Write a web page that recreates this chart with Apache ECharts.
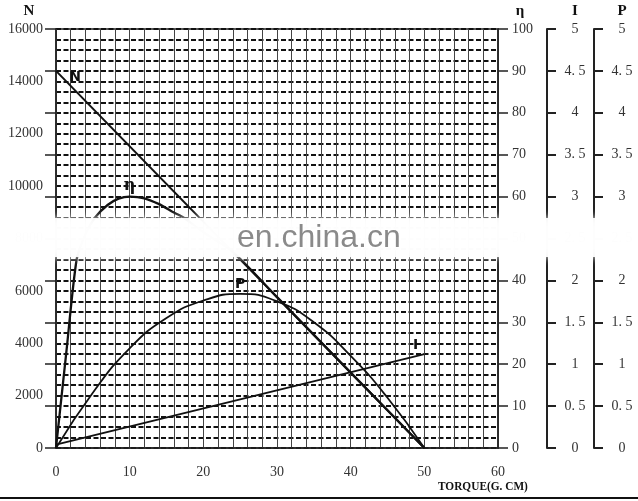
<!DOCTYPE html>
<html>
<head>
<meta charset="utf-8">
<script src="https://cdn.jsdelivr.net/npm/echarts@6/dist/echarts.min.js"></script>
<style>
html,body{margin:0;padding:0;background:#fff;}
#c{width:638px;height:501px;}
</style>
</head>
<body>
<div id="c"></div>
<script>
// ---- data ----
const torqueN = [0, 50];
const speedN = [14400, 0];

const torqueEta = [0, 1.4, 2.8, 4, 5.3, 7, 8.5, 10, 12, 14, 16, 17.3, 20, 24, 30, 40, 50];
const efficiency = [0, 22.8, 45, 51, 55, 58, 59.5, 60, 59.6, 58.2, 56.2, 55, 51.5, 46.8, 36, 18, 0];

const torqueP = [0, 5, 10, 15, 20, 25, 30, 35, 40, 45, 50];
const powerP = [0, 0.66, 1.19, 1.55, 1.76, 1.84, 1.75, 1.5, 1.1, 0.6, 0];

const torqueI = [0, 50];
const currentI = [0.04, 1.12];

const curveLabelNames = ['N', 'η', 'P', 'I'];
const curveLabelT = [2.6, 10, 25, 48.8];
const curveLabelV = [14160, 62.5, 1.95, 1.23];

const xTitle = 'TORQUE(G. CM)';
const watermark = 'en.china.cn';

// ---- build ----
const pairs = (a, b) => a.map((v, i) => [v, b[i]]);
const serif = 'Liberation Serif';
const lblColor = '#333';
const ipFmt = v => (v % 1 === 0 ? String(v) : String(v).replace('.', '. '));

function labelMark(i) {
  return {
    symbol: 'circle', symbolSize: 0,
    label: { show: true, formatter: curveLabelNames[i], color: '#111', fontFamily: i === 1 ? 'DejaVu Serif' : 'DejaVu Sans', fontWeight: 'bold', fontSize: i === 1 ? 16 : 14, position: 'inside' },
    data: [{ coord: [curveLabelT[i], curveLabelV[i]] }]
  };
}

const chart = echarts.init(document.getElementById('c'), null, { renderer: 'canvas' });
const option = {
  animation: false,
  backgroundColor: '#fff',
  grid: { left: 56, top: 29, width: 442, height: 419, show: true, borderColor: '#222', borderWidth: 1.5, backgroundColor: 'transparent' },
  xAxis: {
    type: 'value', min: 0, max: 60, interval: 10,
    axisLine: { show: true, lineStyle: { color: '#222', width: 1.5 } },
    axisTick: { show: false },
    axisLabel: { color: lblColor, fontFamily: serif, fontSize: 14, margin: 17 },
    splitLine: { show: true, lineStyle: { color: '#444', width: 1 } },
    minorTick: { show: false, splitNumber: 5 },
    minorSplitLine: { show: true, lineStyle: { color: '#444', width: 1 } }
  },
  yAxis: [
    { // N (left labels)
      type: 'value', min: 0, max: 16000, interval: 2000, position: 'left',
      name: 'N', nameLocation: 'end', nameGap: 10,
      nameTextStyle: { color: '#111', fontFamily: serif, fontWeight: 'bold', fontSize: 15, align: 'center', padding: [0, 54, 0, 0] },
      axisLine: { show: true, lineStyle: { color: '#222', width: 1.5 } },
      axisTick: { show: false },
      axisLabel: { color: lblColor, fontFamily: serif, fontSize: 14, margin: 13, formatter: v => String(v) },
      splitLine: { show: false }
    },
    { // eta (right)
      type: 'value', min: 0, max: 100, interval: 10, position: 'right',
      name: 'η', nameLocation: 'end', nameGap: 10,
      nameTextStyle: { color: '#111', fontFamily: serif, fontWeight: 'bold', fontSize: 15, align: 'center', padding: [0, 0, 0, 44] },
      axisLine: { show: true, lineStyle: { color: '#222', width: 1.5 } },
      axisTick: { show: true, length: 10, lineStyle: { color: '#222', width: 1.5 } },
      axisLabel: { color: lblColor, fontFamily: serif, fontSize: 14, margin: 14 },
      splitLine: { show: true, lineStyle: { color: '#111', width: 1.8, type: [5, 2.5] } },
      minorTick: { show: false, splitNumber: 4 },
      minorSplitLine: { show: true, lineStyle: { color: '#111', width: 1.8, type: [5, 2.5] } }
    },
    { // left tick marks
      type: 'value', min: 0, max: 100, interval: 10, position: 'left',
      axisLine: { show: false },
      axisTick: { show: true, length: 11, lineStyle: { color: '#222', width: 1.5 } },
      axisLabel: { show: false },
      splitLine: { show: false }
    },
    { // I
      type: 'value', min: 0, max: 5, interval: 0.5, position: 'right', offset: 49,
      name: 'I', nameLocation: 'end', nameGap: 10,
      nameTextStyle: { color: '#111', fontFamily: serif, fontWeight: 'bold', fontSize: 15, align: 'center', padding: [0, 0, 0, 56] },
      axisLine: { show: true, lineStyle: { color: '#222', width: 2 } },
      axisTick: { show: true, length: 9, lineStyle: { color: '#222', width: 2 } },
      axisLabel: { color: lblColor, fontFamily: serif, fontSize: 14, margin: 28, align: 'center', formatter: ipFmt },
      splitLine: { show: false }
    },
    { // P
      type: 'value', min: 0, max: 5, interval: 0.5, position: 'right', offset: 96,
      name: 'P', nameLocation: 'end', nameGap: 10,
      nameTextStyle: { color: '#111', fontFamily: serif, fontWeight: 'bold', fontSize: 15, align: 'center', padding: [0, 0, 0, 56] },
      axisLine: { show: true, lineStyle: { color: '#222', width: 2 } },
      axisTick: { show: true, length: 9, lineStyle: { color: '#222', width: 2 } },
      axisLabel: { color: lblColor, fontFamily: serif, fontSize: 14, margin: 28, align: 'center', formatter: ipFmt },
      splitLine: { show: false }
    }
  ],
  series: [
    { name: 'N', type: 'line', yAxisIndex: 0, data: pairs(torqueN, speedN), symbol: 'none', lineStyle: { color: '#111', width: 2 }, markPoint: labelMark(0), z: 5 },
    { name: 'η', type: 'line', yAxisIndex: 1, data: pairs(torqueEta, efficiency), symbol: 'none', smooth: 0.25, lineStyle: { color: '#111', width: 2.3 }, markPoint: labelMark(1), z: 5 },
    { name: 'P', type: 'line', yAxisIndex: 4, data: pairs(torqueP, powerP), symbol: 'none', smooth: true, lineStyle: { color: '#111', width: 1.8 }, markPoint: labelMark(2), z: 5 },
    { name: 'I', type: 'line', yAxisIndex: 3, data: pairs(torqueI, currentI), symbol: 'none', lineStyle: { color: '#111', width: 2 }, markPoint: labelMark(3), z: 5 }
  ],
  graphic: [
    { type: 'text', x: 438, y: 480, scaleX: 0.84, z: 10, style: { text: xTitle, fill: '#111', font: 'bold 13.5px "Liberation Serif"' } },
    { type: 'rect', shape: { x: 0, y: 218, width: 638, height: 39 }, z: 100, style: { fill: 'rgba(255,255,255,0.93)', shadowBlur: 8, shadowColor: 'rgba(255,255,255,0.9)' } },
    { type: 'text', left: 237, top: 222, z: 101, style: { text: watermark, fill: '#8a8a8a', font: '32px "Liberation Sans"' } },
    { type: 'line', shape: { x1: 0, y1: 498, x2: 638, y2: 498 }, z: 10, style: { stroke: '#111', lineWidth: 2 } }
  ]
};
chart.setOption(option);
</script>
</body>
</html>
